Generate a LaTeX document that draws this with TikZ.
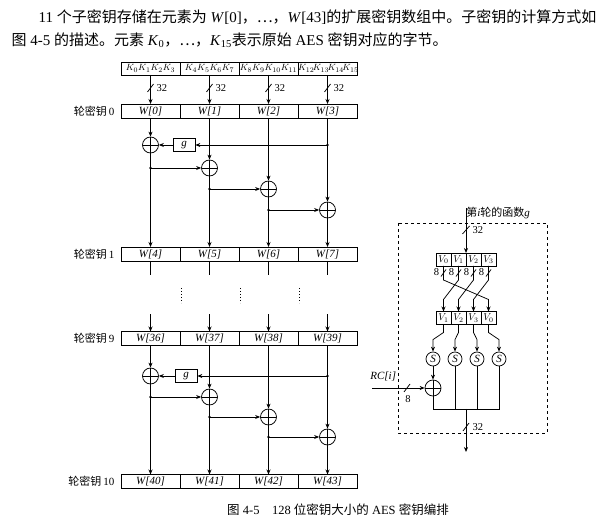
\documentclass[tikz,border=0pt]{standalone}
\usepackage{fontspec}
\setmainfont{Liberation Serif}
\newfontfamily\cjk{Noto Sans CJK SC}
\usetikzlibrary{arrows.meta, positioning}

\begin{document}
\begin{tikzpicture}[
  x=1pt, y=-1pt,
  line width=0.75pt,
  cell/.style={
    rectangle, draw, outer sep=0pt, inner sep=0pt,
    minimum width=59pt, minimum height=14pt,
    font=\fontsize{11}{12}\selectfont\itshape
  },
  keycell/.style={cell, text width=59pt, align=center, minimum height=13pt, font=\fontsize{9.5}{11}\selectfont},
  vcell/.style={cell, minimum width=15pt, minimum height=13pt, font=\fontsize{10}{11}\selectfont},
  rowlabel/.style={font=\fontsize{11}{12}\selectfont},
  small/.style={font=\fontsize{10.5}{12}\selectfont},
  xorop/.style={
    circle, draw, minimum size=16pt, inner sep=0pt,
    path picture={
      \draw (path picture bounding box.north) -- (path picture bounding box.south)
            (path picture bounding box.west) -- (path picture bounding box.east);
    }
  },
  sbox/.style={circle, draw, minimum size=14pt, inner sep=0pt, font=\fontsize{11}{12}\selectfont\itshape},
  gbox/.style={rectangle, draw, minimum width=22pt, minimum height=13pt, inner sep=0pt, font=\fontsize{11}{12}\selectfont\itshape},
  arr/.style={-{Stealth[length=5pt, width=4pt]}}
]
  \useasboundingbox (0,0) rectangle (614,526);

  % Intro text
  \node[anchor=west, font=\fontsize{15}{18}\selectfont] (intro1) at (35,17)
    {11 {\cjk 个子密钥存储在元素为} \textit{W}[0]{\cjk ，…，}\textit{W}[43]{\cjk 的扩展密钥数组中。子密钥的计算方式如}};
  \node[anchor=west, font=\fontsize{15}{18}\selectfont] (intro2) at (8,40)
    {{\cjk 图} 4-5 {\cjk 的描述。元素} \textit{K}\textsubscript{0}{\cjk ，…，}\textit{K}\textsubscript{15}{\cjk 表示原始} AES {\cjk 密钥对应的字节。}};

  % Original key bytes
  \node[keycell] (k0) at (150.5,68.5) {$K_0K_1K_2K_3$};
  \node[keycell, right=0pt of k0] (k1) {$K_4K_5K_6K_7$};
  \node[keycell, right=0pt of k1] (k2) {$K_8K_9K_{10}K_{11}$};
  \node[keycell, right=0pt of k2] (k3) {$K_{12}\!K_{13}\!K_{14}\!K_{15}$};

  % Round key 0
  \node[cell] (r0a) at (150.5,111) {W[0]};
  \node[cell, right=0pt of r0a] (r0b) {W[1]};
  \node[cell, right=0pt of r0b] (r0c) {W[2]};
  \node[cell, right=0pt of r0c] (r0d) {W[3]};
  \node[rowlabel, left=3pt of r0a] (l0) {{\cjk 轮密钥}\,0};

  \draw[arr] (k0) -- (r0a);
  \draw[arr] (k1) -- (r0b);
  \draw[arr] (k2) -- (r0c);
  \draw[arr] (k3) -- (r0d);
  \draw (147.5,92) -- (153.5,84);
  \draw (206.5,92) -- (212.5,84);
  \draw (265.5,92) -- (271.5,84);
  \draw (324.5,92) -- (330.5,84);
  \node[small, anchor=west] (w0a) at (153,88) {32};
  \node[small, anchor=west] (w0b) at (212,88) {32};
  \node[small, anchor=west] (w0c) at (271,88) {32};
  \node[small, anchor=west] (w0d) at (330,88) {32};

  % First round
  \node[xorop] (x1) at (150.5,145) {};
  \node[gbox] (g0) at (184,145) {g};
  \node[xorop] (x2) at (209.5,168) {};
  \node[xorop] (x3) at (268.5,189) {};
  \node[xorop] (x4) at (327.5,210) {};
  \coordinate (b0d) at (327.5,145);
  \coordinate (b0a) at (150.5,168);
  \coordinate (b0b) at (209.5,189);
  \coordinate (b0c) at (268.5,210);

  % Round key 1
  \node[cell] (r1a) at (150.5,254) {W[4]};
  \node[cell, right=0pt of r1a] (r1b) {W[5]};
  \node[cell, right=0pt of r1b] (r1c) {W[6]};
  \node[cell, right=0pt of r1c] (r1d) {W[7]};
  \node[rowlabel, left=3pt of r1a] (l1) {{\cjk 轮密钥}\,1};

  \draw[arr] (r0a) -- (x1);
  \draw[arr] (x1) -- (r1a);
  \draw[arr] (r0b) -- (x2);
  \draw[arr] (x2) -- (r1b);
  \draw[arr] (r0c) -- (x3);
  \draw[arr] (x3) -- (r1c);
  \draw[arr] (r0d) -- (x4);
  \draw[arr] (x4) -- (r1d);
  \draw[arr] (b0d) -- (g0);
  \draw[arr] (g0) -- (x1);
  \draw[arr] (b0a) -- (x2);
  \draw[arr] (b0b) -- (x3);
  \draw[arr] (b0c) -- (x4);
  \fill (b0d) circle[radius=1.4pt];
  \fill (b0a) circle[radius=1.4pt];
  \fill (b0b) circle[radius=1.4pt];
  \fill (b0c) circle[radius=1.4pt];

  \draw (r1a.south) -- ++(0,14);
  \draw (r1b.south) -- ++(0,14);
  \draw (r1c.south) -- ++(0,14);
  \draw (r1d.south) -- ++(0,14);

  % Dots
  \draw[line width=1pt, dash pattern=on 1pt off 2pt] (181,288) -- (181,303);
  \draw[line width=1pt, dash pattern=on 1pt off 2pt] (240,288) -- (240,303);
  \draw[line width=1pt, dash pattern=on 1pt off 2pt] (299,288) -- (299,303);

  % Round key 9
  \node[cell] (r9a) at (150.5,338.5) {W[36]};
  \node[cell, right=0pt of r9a] (r9b) {W[37]};
  \node[cell, right=0pt of r9b] (r9c) {W[38]};
  \node[cell, right=0pt of r9c] (r9d) {W[39]};
  \node[rowlabel, left=3pt of r9a] (l9) {{\cjk 轮密钥}\,9};

  \draw[arr] ([yshift=17pt]r9a.north) -- (r9a.north);
  \draw[arr] ([yshift=17pt]r9b.north) -- (r9b.north);
  \draw[arr] ([yshift=17pt]r9c.north) -- (r9c.north);
  \draw[arr] ([yshift=17pt]r9d.north) -- (r9d.north);

  % Last round
  \node[xorop] (y1) at (150.5,376) {};
  \node[gbox] (g9) at (186,376) {g};
  \node[xorop] (y2) at (209.5,397) {};
  \node[xorop] (y3) at (268.5,417) {};
  \node[xorop] (y4) at (327.5,437) {};
  \coordinate (b9d) at (327.5,376);
  \coordinate (b9a) at (150.5,397);
  \coordinate (b9b) at (209.5,417);
  \coordinate (b9c) at (268.5,437);

  % Round key 10
  \node[cell] (r10a) at (150.5,481.5) {W[40]};
  \node[cell, right=0pt of r10a] (r10b) {W[41]};
  \node[cell, right=0pt of r10b] (r10c) {W[42]};
  \node[cell, right=0pt of r10c] (r10d) {W[43]};
  \node[rowlabel, left=3pt of r10a] (l10) {{\cjk 轮密钥}\,10};

  \draw[arr] (r9a) -- (y1);
  \draw[arr] (y1) -- (r10a);
  \draw[arr] (r9b) -- (y2);
  \draw[arr] (y2) -- (r10b);
  \draw[arr] (r9c) -- (y3);
  \draw[arr] (y3) -- (r10c);
  \draw[arr] (r9d) -- (y4);
  \draw[arr] (y4) -- (r10d);
  \draw[arr] (b9d) -- (g9);
  \draw[arr] (g9) -- (y1);
  \draw[arr] (b9a) -- (y2);
  \draw[arr] (b9b) -- (y3);
  \draw[arr] (b9c) -- (y4);
  \fill (b9d) circle[radius=1.4pt];
  \fill (b9a) circle[radius=1.4pt];
  \fill (b9b) circle[radius=1.4pt];
  \fill (b9c) circle[radius=1.4pt];

  \node[font=\fontsize{12.5}{14}\selectfont] (caption) at (338,510)
    {{\cjk 图} 4-5\quad 128 {\cjk 位密钥大小的} AES {\cjk 密钥编排}};

  % Function g
  \draw[dashed] (398,223) rectangle (547,433);
  \node[anchor=west, font=\fontsize{11}{12}\selectfont, inner sep=1pt] (gtitle) at (465,213)
    {{\cjk 第}\textit{i}{\cjk 轮的函数}\textit{g}};
  \coordinate (gin) at (466,208);

  \node[vcell] (v0) at (443.5,259.5) {$V_0$};
  \node[vcell, right=0pt of v0] (v1) {$V_1$};
  \node[vcell, right=0pt of v1] (v2) {$V_2$};
  \node[vcell, right=0pt of v2] (v3) {$V_3$};
  \draw[arr] (gin) -- (v1.north east);
  \draw (462.5,234) -- (469.5,226);
  \node[small, anchor=west] (w32in) at (469,230) {32};

  \node[vcell] (u1) at (443.5,318) {$V_1$};
  \node[vcell, right=0pt of u1] (u2) {$V_2$};
  \node[vcell, right=0pt of u2] (u3) {$V_3$};
  \node[vcell, right=0pt of u3] (u0) {$V_0$};

  \draw[arr] (v0.south) -- ++(0,14) -- ([yshift=12pt]u0.north) -- (u0.north);
  \draw[arr] (v1.south) -- ++(0,14) -- ([yshift=12pt]u1.north) -- (u1.north);
  \draw[arr] (v2.south) -- ++(0,14) -- ([yshift=12pt]u2.north) -- (u2.north);
  \draw[arr] (v3.south) -- ++(0,14) -- ([yshift=12pt]u3.north) -- (u3.north);
  \draw (441,276.5) -- (446,269.5);
  \draw (456,276.5) -- (461,269.5);
  \draw (471,276.5) -- (476,269.5);
  \draw (486,276.5) -- (491,269.5);
  \node[small, anchor=east, inner sep=0.5pt] (e0) at (440,272) {8};
  \node[small, anchor=east, inner sep=0.5pt] (e1) at (455,272) {8};
  \node[small, anchor=east, inner sep=0.5pt] (e2) at (470,272) {8};
  \node[small, anchor=east, inner sep=0.5pt] (e3) at (485,272) {8};

  \node[sbox] (s1) at (433,359) {S};
  \node[sbox] (s2) at (455,359) {S};
  \node[sbox] (s3) at (477,359) {S};
  \node[sbox] (s4) at (499,359) {S};
  \draw[arr] (u1.south) -- ++(0,8) -- ([yshift=12pt]s1.north) -- (s1.north);
  \draw[arr] (u2.south) -- ++(0,8) -- ([yshift=12pt]s2.north) -- (s2.north);
  \draw[arr] (u3.south) -- ++(0,8) -- ([yshift=12pt]s3.north) -- (s3.north);
  \draw[arr] (u0.south) -- ++(0,8) -- ([yshift=12pt]s4.north) -- (s4.north);

  \node[xorop] (z) at (433,388) {};
  \draw[arr] (s1) -- (z);
  \coordinate (rcin) at (372,388);
  \node[font=\fontsize{11}{12}\selectfont\itshape, anchor=south west, inner sep=1pt] (rclab) at (369,382) {RC[i]};
  \draw[arr] (rcin) -- (z);
  \draw (404,392) -- (410,384);
  \node[small] (e8) at (408,399) {8};

  \coordinate (m1) at (433,409);
  \coordinate (m4) at (499,409);
  \draw (z) -- (m1) -- (m4) -- (s4);
  \draw (s2) -- (s2 |- m1);
  \draw (s3) -- (s3 |- m1);
  \coordinate (gmid) at (466,409);
  \coordinate (gout) at (466,452);
  \draw[arr] (gmid) -- (gout);
  \draw (463,431) -- (469,423);
  \node[small, anchor=west] (w32out) at (469,427) {32};
\end{tikzpicture}
\end{document}
